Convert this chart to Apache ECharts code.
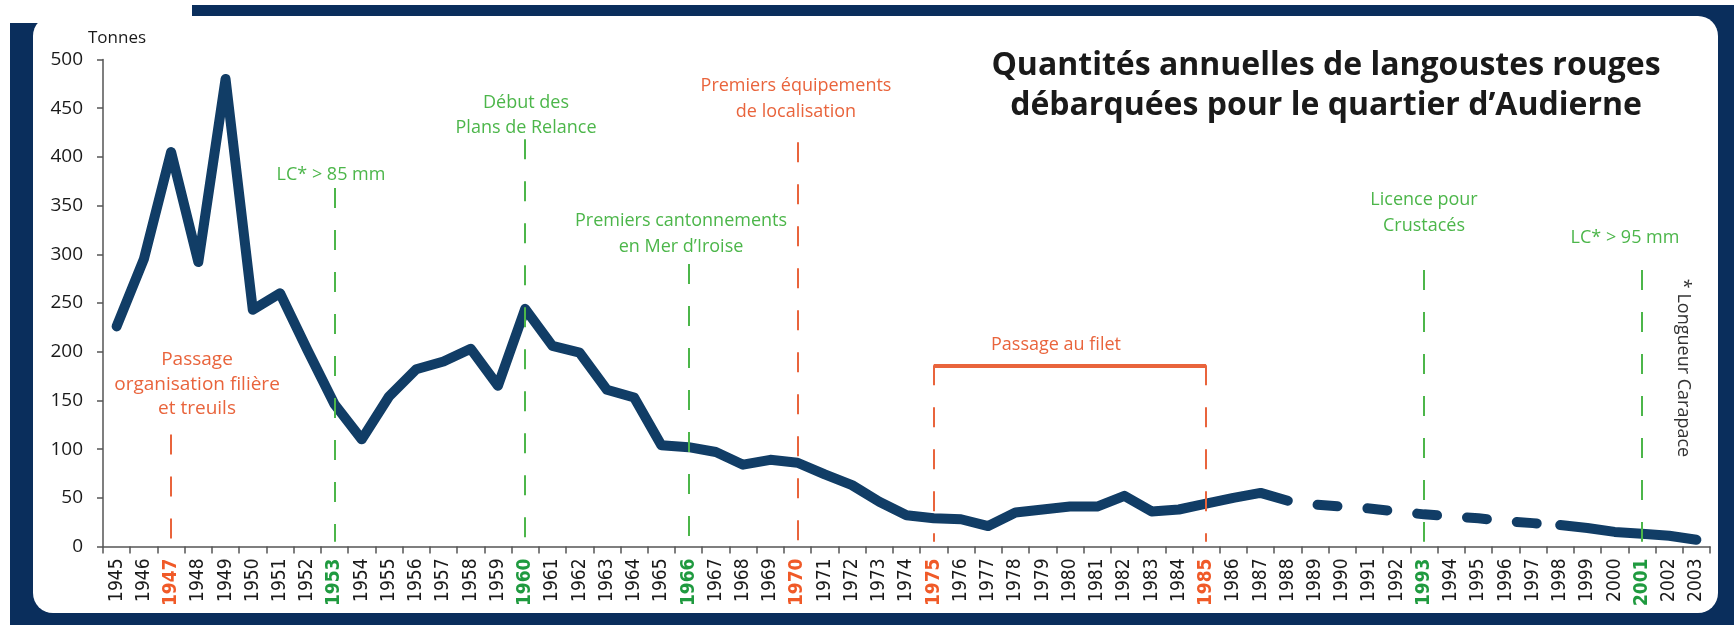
<!DOCTYPE html>
<html>
<head>
<meta charset="utf-8">
<script src="https://cdn.jsdelivr.net/npm/echarts@6/dist/echarts.min.js"></script>
<style>
  html, body { margin: 0; padding: 0; background: #fff; }
  #chart { width: 1734px; height: 625px; }
</style>
</head>
<body>
<div id="chart"></div>
<script>
// annees (categories)
const years = ['1945','1946','1947','1948','1949','1950','1951','1952','1953','1954',
  '1955','1956','1957','1958','1959','1960','1961','1962','1963','1964',
  '1965','1966','1967','1968','1969','1970','1971','1972','1973','1974',
  '1975','1976','1977','1978','1979','1980','1981','1982','1983','1984',
  '1985','1986','1987','1988','1989','1990','1991','1992','1993','1994',
  '1995','1996','1997','1998','1999','2000','2001','2002','2003']
// tonnes debarquees
const tonnes = [226, 295, 405, 292, 480, 243, 260, 202, 146, 110,
  154, 182, 190, 203, 165, 244, 206, 199, 161, 153,
  104, 102, 97, 84, 89, 86, 74, 63, 46, 32,
  29, 28, 21, 35, 38, 41, 41, 52, 36, 38,
  44, 50, 55, 47, 43, 41, 39, 36, 33, 31,
  29, 26, 24, 22, 19, 15, 13, 11, 7]
// partie en pointilles
const dashFrom = '1988'
const dashTo = '1998'
const yTicks = [0, 50, 100, 150, 200, 250, 300, 350, 400, 450, 500]

// evenements (lignes verticales)
const redYears = ['1947', '1970', '1975', '1985']
const greenYears = ['1953', '1960', '1966', '1993', '2001']
const eventYears = ['1947', '1953', '1960', '1966', '1970', '1975', '1985', '1993', '2001']
const eventTops = [115, 368, 418, 290, 415, 186, 186, 284, 284]
const filetFrom = '1975'
const filetTo = '1985'
const filetLevel = 186

const NAVY = '#0a2e5c'
const LINE = '#113d66'
const RED = '#e9643c'
const GREEN = '#4cb64a'
const NARROW = '"Liberation Sans Narrow", "DejaVu Sans Condensed", sans-serif'

let chart = echarts.init(document.getElementById('chart'))

const i1 = years.indexOf(dashFrom)
const i2 = years.indexOf(dashTo)
const part1 = tonnes.map((v, i) => (i <= i1 ? v : null))
const part2 = tonnes.map((v, i) => (i >= i1 && i <= i2 ? v : null))
const part3 = tonnes.map((v, i) => (i >= i2 ? v : null))

const lineStyle = { color: LINE, width: 10, cap: 'round', join: 'round' }

const eventLines = eventYears.map((y, i) => [
  {
    coord: [y, eventTops[i]],
    lineStyle: { color: redYears.includes(y) ? RED : GREEN },
  },
  { coord: [y, 5] },
])
eventLines.push([
  { coord: [filetFrom, filetLevel], lineStyle: { color: RED, type: 'solid', width: 4 } },
  { coord: [filetTo, filetLevel] },
])

const txt = (x, y, text, color, size, extra) => ({
  type: 'text',
  x: x,
  y: y,
  z: 5,
  style: Object.assign({
    text: text,
    fill: color,
    font: (size || 18) + 'px "Open Sans"',
    align: 'center',
    verticalAlign: 'middle',
    lineHeight: 25,
  }, extra || {}),
})

chart.setOption({
  animation: false,
  grid: { left: 103, right: 24, top: 59.5, bottom: 78.5 },
  xAxis: {
    type: 'category',
    data: years,
    boundaryGap: true,
    axisLine: { lineStyle: { color: '#555', width: 1.5 } },
    axisTick: { show: true, length: 7, interval: 0, lineStyle: { color: '#555', width: 1.5 } },
    axisLabel: {
      interval: 0,
      rotate: 90,
      margin: 12,
      fontFamily: NARROW,
      fontSize: 19,
      color: '#1a1a1a',
      formatter: (v) => {
        if (redYears.includes(v)) return '{r|' + v + '}'
        if (greenYears.includes(v)) return '{g|' + v + '}'
        return v
      },
      rich: {
        r: { color: '#f05a28', fontWeight: 'bold', fontSize: 19, fontFamily: NARROW },
        g: { color: '#1f9a3f', fontWeight: 'bold', fontSize: 19, fontFamily: NARROW },
      },
    },
    splitLine: { show: false },
  },
  yAxis: {
    type: 'value',
    min: yTicks[0],
    max: yTicks[yTicks.length - 1],
    interval: yTicks[1] - yTicks[0],
    axisLine: { show: true, lineStyle: { color: '#555', width: 1.5 } },
    axisTick: { show: true, length: 6, lineStyle: { color: '#555', width: 1.5 } },
    axisLabel: { margin: 20, fontSize: 19, fontFamily: '"Open Sans"', color: '#1a1a1a' },
    splitLine: { show: false },
  },
  graphic: [
    // cadre bleu
    { type: 'rect', z: -10, shape: { x: 192, y: 5, width: 1542, height: 620 }, style: { fill: NAVY } },
    { type: 'rect', z: -10, shape: { x: 10, y: 23, width: 1724, height: 602 }, style: { fill: NAVY } },
    { type: 'rect', z: -9, shape: { x: 33, y: 16, width: 1685, height: 597, r: 20 }, style: { fill: '#fff' } },
    txt(117, 38, 'Tonnes', '#1a1a1a', 17),
    txt(1326, 86, 'Quantités annuelles de langoustes rouges\ndébarquées pour le quartier d’Audierne', '#1a1a1a', 32,
      { font: 'bold 32px "Open Sans"', lineHeight: 40 }),
    txt(331, 175, 'LC* > 85 mm', GREEN),
    txt(526, 115.5, 'Début des\nPlans de Relance', GREEN),
    txt(681, 234, 'Premiers cantonnements\nen Mer d’Iroise', GREEN, 18, { lineHeight: 26 }),
    txt(796, 99, 'Premiers équipements\nde localisation', RED, 18, { lineHeight: 26 }),
    txt(197, 384.5, 'Passage\norganisation filière\net treuils', RED, 19, { lineHeight: 24.5 }),
    txt(1056, 345, 'Passage au filet', RED),
    txt(1424, 213, 'Licence pour\nCrustacés', GREEN, 18, { lineHeight: 26 }),
    txt(1625, 238, 'LC* > 95 mm', GREEN),
    Object.assign(txt(1683, 368, '* Longueur Carapace', '#333', 18), { rotation: -Math.PI / 2 }),
  ],
  series: [
    {
      name: 'evenements',
      type: 'line',
      data: [],
      z: 1,
      silent: true,
      markLine: {
        silent: true,
        symbol: 'none',
        label: { show: false },
        lineStyle: { type: [20, 22], width: 2 },
        data: eventLines,
      },
    },
    {
      type: 'line',
      data: part1,
      z: 3,
      showSymbol: false,
      lineStyle: lineStyle,
    },
    {
      type: 'line',
      data: part2,
      z: 3,
      showSymbol: false,
      lineStyle: Object.assign({}, lineStyle, { type: [20, 30], dashOffset: 20 }),
    },
    {
      type: 'line',
      data: part3,
      z: 3,
      showSymbol: false,
      lineStyle: lineStyle,
    },
  ],
})
</script>
</body>
</html>
